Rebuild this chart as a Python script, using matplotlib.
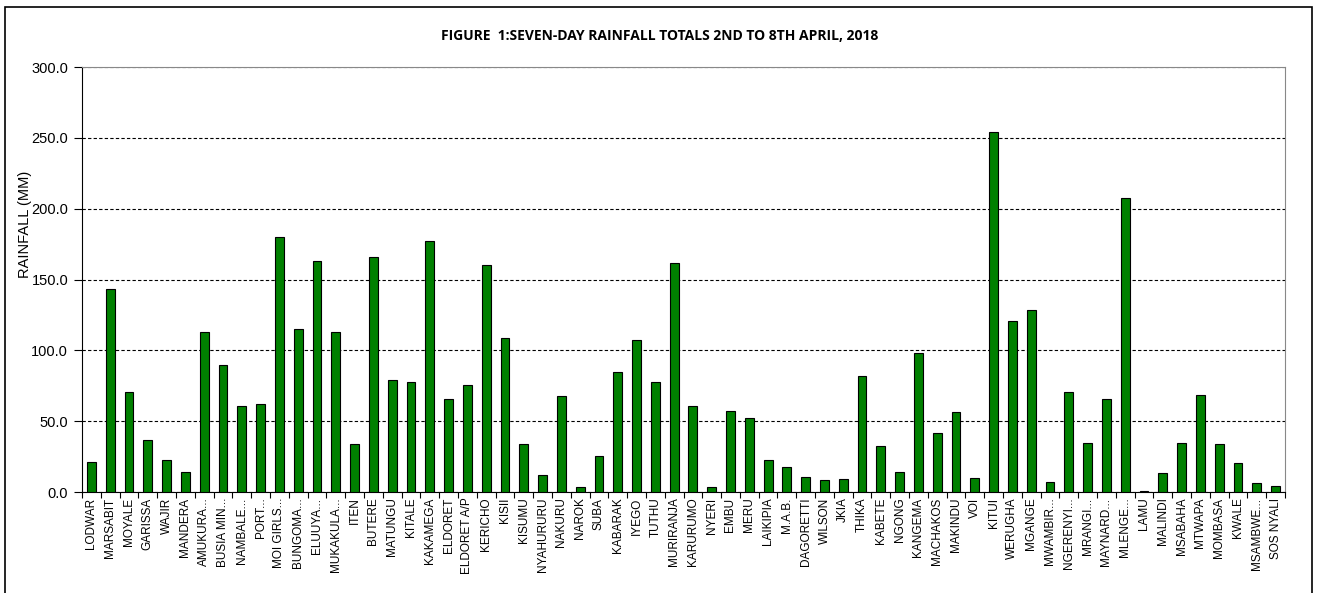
import matplotlib.pyplot as plt
import numpy as np
from matplotlib.patches import Rectangle

stations = [
    "LODWAR", "MARSABIT", "MOYALE", "GARISSA", "WAJIR", "MANDERA", "AMUKURA...",
    "BUSIA MIN...", "NAMBALE...", "PORT...", "MOI GIRLS...", "BUNGOMA...", "ELUUYA...",
    "MUKAKULA...", "ITEN", "BUTERE", "MATUNGU", "KITALE", "KAKAMEGA", "ELDORET",
    "ELDORET A/P", "KERICHO", "KISII", "KISUMU", "NYAHURURU", "NAKURU", "NAROK",
    "SUBA", "KABARAK", "IYEGO", "TUTHU", "MURIRANJA", "KARURUMO", "NYERI", "EMBU",
    "MERU", "LAIKIPIA", "M.A.B.", "DAGORETTI", "WILSON", "JKIA", "THIKA", "KABETE",
    "NGONG", "KANGEMA", "MACHAKOS", "MAKINDU", "VOI", "KITUI", "WERUGHA", "MGANGE",
    "MWAMBIR...", "NGERENYI...", "MRANGI...", "MAYNARD...", "MLENGE...", "LAMU",
    "MALINDI", "MSABAHA", "MTWAPA", "MOMBASA", "KWALE", "MSAMBWE...", "SOS NYALI",
]
rainfall = [
    21.0, 143.0, 70.6, 37.0, 22.6, 14.0, 113.0, 90.0, 61.0, 62.0, 180.0, 115.0,
    163.0, 113.0, 34.0, 166.0, 79.0, 78.0, 177.0, 66.0, 75.5, 160.0, 108.7, 34.0,
    12.0, 68.0, 3.5, 25.4, 85.0, 107.0, 78.0, 161.6, 61.0, 3.5, 57.0, 52.0, 22.6,
    17.6, 10.6, 8.5, 9.0, 82.0, 32.5, 14.0, 98.0, 42.0, 56.5, 10.0, 254.0, 121.0,
    128.5, 7.0, 70.6, 34.6, 65.6, 207.5, 1.0, 13.4, 34.6, 68.5, 34.0, 20.5, 6.4, 4.2,
]
y_ticks = [0, 50, 100, 150, 200, 250, 300]

fig = plt.figure(figsize=(13.19, 5.93), dpi=100)
ax = fig.add_axes([0.0622, 0.1703, 0.9120, 0.7167])

# outer chart frame
fig.patches.append(Rectangle((0.004, -0.01), 0.991, 0.998, transform=fig.transFigure,
                             fill=False, edgecolor="black", linewidth=1.2))

x = np.arange(len(stations))
ax.bar(x, rainfall, width=0.47, color="#008000", edgecolor="black", linewidth=0.8, zorder=3)

ax.set_xlim(-0.5, len(stations) - 0.5)
ax.set_ylim(0, 300)
ax.set_yticks(y_ticks)
ax.set_yticklabels([f"{v:.1f}" for v in y_ticks], fontsize=10.5, family="Liberation Sans")
ax.set_xticks(x)
ax.set_xticklabels(stations, rotation=90, fontsize=8.5, family="Liberation Sans")
ax.set_xticks(np.arange(-0.5, len(stations), 1), minor=True)
ax.tick_params(axis="x", which="major", length=0, pad=4)
ax.tick_params(axis="x", which="minor", length=4, width=0.8)
ax.tick_params(axis="y", length=6, width=0.8, pad=4)

ax.yaxis.grid(True, linestyle=(0, (3, 2)), color="black", linewidth=0.8, zorder=0)
ax.spines["top"].set_color("#888888")
ax.spines["right"].set_color("#888888")
ax.spines["left"].set_color("black")
ax.spines["bottom"].set_color("black")

ax.set_ylabel("RAINFALL (MM)", fontsize=10.5, family="Liberation Sans")
ax.yaxis.set_label_coords(-0.042, 0.63)
fig.text(0.5, 0.94, "FIGURE  1:SEVEN-DAY RAINFALL TOTALS 2ND TO 8TH APRIL, 2018",
         ha="center", va="center", fontsize=10, fontweight="bold", family="Open Sans")

fig.savefig("out.png", dpi=100)
